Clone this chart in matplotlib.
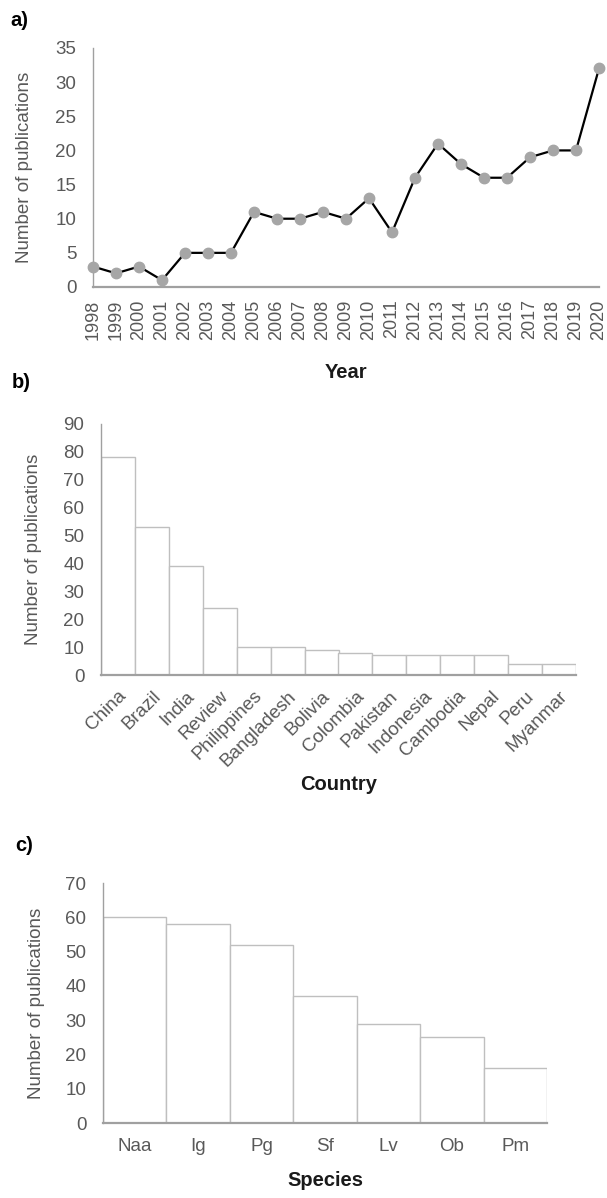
import matplotlib
matplotlib.use("Agg")
import matplotlib.pyplot as plt
from matplotlib.transforms import blended_transform_factory

plt.rcParams['font.family'] = ['Liberation Sans', 'DejaVu Sans']

years = ['1998', '1999', '2000', '2001', '2002', '2003', '2004', '2005', '2006', '2007', '2008',
         '2009', '2010', '2011', '2012', '2013', '2014', '2015', '2016', '2017', '2018', '2019', '2020']
year_counts = [3, 2, 3, 1, 5, 5, 5, 11, 10, 10, 11, 10, 13, 8, 16, 21, 18, 16, 16, 19, 20, 20, 32]

countries = ['China', 'Brazil', 'India', 'Review', 'Philippines', 'Bangladesh', 'Bolivia',
             'Colombia', 'Pakistan', 'Indonesia', 'Cambodia', 'Nepal', 'Peru', 'Myanmar']
country_counts = [78, 53, 39, 24, 10, 10, 9, 8, 7, 7, 7, 7, 4, 4]

species = ['Naa', 'Ig', 'Pg', 'Sf', 'Lv', 'Ob', 'Pm']
species_counts = [60, 58, 52, 37, 29, 25, 16]

TICK = '#595959'
SPINE = '#a0a0a0'
EDGE = '#bfbfbf'
FS = 13.5
XL = 14.5

W, H = 607, 1198
fig = plt.figure(figsize=(W / 100, H / 100), dpi=100)


def box(l, r, t, b):
    return [l / W, 1 - b / H, (r - l) / W, (b - t) / H]


def style(ax, ylab_right):
    for s in ['top', 'right']:
        ax.spines[s].set_visible(False)
    ax.spines['left'].set_color(SPINE)
    ax.spines['bottom'].set_color(SPINE)
    ax.spines['left'].set_linewidth(1.0)
    ax.spines['bottom'].set_linewidth(1.6)
    ax.tick_params(axis='y', length=0, labelsize=FS, labelcolor=TICK, pad=12)
    ax.tick_params(axis='x', length=0, labelsize=FS, labelcolor=TICK)
    ax.set_ylabel('Number of publications', fontsize=FS, color=TICK)
    tr = blended_transform_factory(fig.transFigure, ax.transAxes)
    ax.yaxis.set_label_coords(ylab_right / W, 0.5, transform=tr)


# Panel a
axa = fig.add_axes(box(93, 599, 48, 287))
xa = list(range(len(years)))
axa.plot(xa, year_counts, color='black', lw=1.6, marker='o', markersize=7.5,
         markerfacecolor='#a6a6a6', markeredgecolor='#a6a6a6', zorder=3, clip_on=False)
axa.set_xlim(0, len(years) - 1)
axa.set_ylim(0, 35)
axa.set_yticks(range(0, 36, 5))
axa.set_xticks(xa)
axa.set_xticklabels(years, rotation=90)
style(axa, 33)
axa.tick_params(axis='x', pad=9, labelsize=13)
axa.set_xlabel('Year', fontsize=XL, fontweight='bold', labelpad=17, color='#1a1a1a')
fig.text(10 / W, 1 - 11 / H, 'a)', fontsize=14.5, fontweight='bold', va='top')

# Panel b
axb = fig.add_axes(box(101, 576, 424, 675))
xb = list(range(len(countries)))
axb.bar(xb, country_counts, width=1.0, color='white', edgecolor=EDGE, linewidth=1.0)
axb.set_xlim(-0.5, len(countries) - 0.5)
axb.set_ylim(0, 90)
axb.set_yticks(range(0, 91, 10))
axb.set_xticks(xb)
axb.set_xticklabels(countries, rotation=45, ha='right', rotation_mode='anchor')
style(axb, 42)
axb.tick_params(axis='x', pad=9)
axb.set_xlabel('Country', fontsize=XL, fontweight='bold', labelpad=4, color='#1a1a1a')
fig.text(12 / W, 1 - 373 / H, 'b)', fontsize=14.5, fontweight='bold', va='top')

# Panel c
axc = fig.add_axes(box(103, 547, 883, 1123))
xc = list(range(len(species)))
axc.bar(xc, species_counts, width=1.0, color='white', edgecolor=EDGE, linewidth=1.0)
axc.set_xlim(-0.5, len(species) - 0.5)
axc.set_ylim(0, 70)
axc.set_yticks(range(0, 71, 10))
axc.set_xticks(xc)
axc.set_xticklabels(species)
style(axc, 45)
axc.tick_params(axis='x', pad=11)
axc.set_xlabel('Species', fontsize=XL, fontweight='bold', labelpad=11, color='#1a1a1a')
fig.text(15 / W, 1 - 836 / H, 'c)', fontsize=14.5, fontweight='bold', va='top')

fig.savefig('out.png', dpi=100, facecolor='white')
